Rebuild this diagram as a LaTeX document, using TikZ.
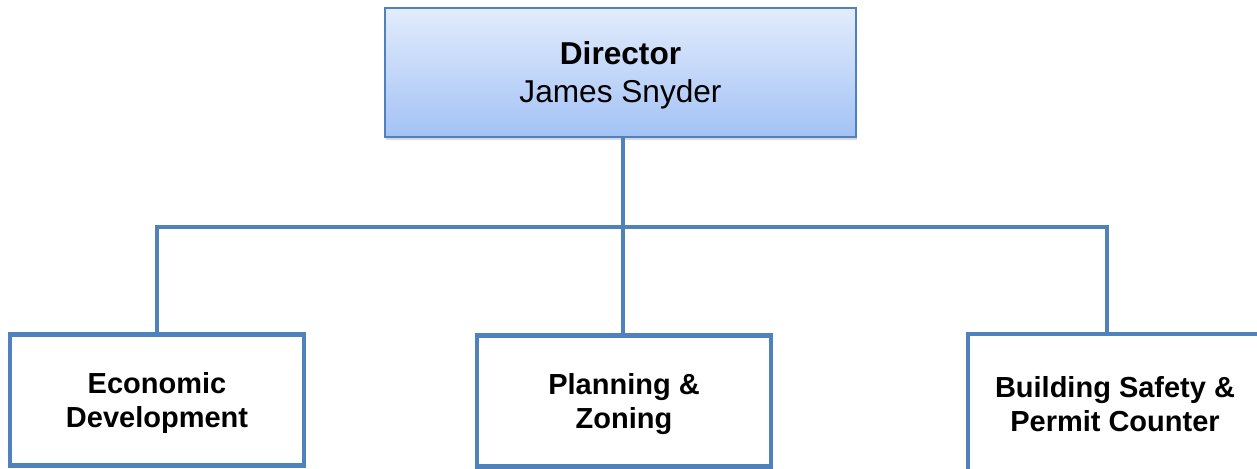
\documentclass[tikz,border=0pt]{standalone}
\usepackage{fontspec}
\setmainfont{Liberation Sans}
\usetikzlibrary{shadows}
\definecolor{orgblue}{HTML}{4F81BD}
\definecolor{dirtop}{HTML}{E2ECFC}
\definecolor{dirbot}{HTML}{A3C2F5}
\tikzset{
  headbox/.style={draw=orgblue, line width=1.1pt, top color=dirtop, bottom color=dirbot,
    minimum width=9.42cm, minimum height=2.58cm, align=center, text depth=-2pt,
    drop shadow={opacity=0.3, shadow xshift=0.6pt, shadow yshift=-2pt},
    font=\fontsize{18}{21.6}\selectfont},
  unitbox/.style={draw=orgblue, line width=2.3pt, fill=white,
    minimum width=5.88cm, minimum height=2.62cm, align=center, text depth=-2pt,
    font=\bfseries\fontsize{16.5}{19.5}\selectfont},
  link/.style={draw=orgblue, line width=2.8pt}
}
\begin{document}
\begin{tikzpicture}[x=0.02cm, y=-0.02cm]
\useasboundingbox (0,0) rectangle (1257,469);

% boxes
\node[headbox] (director) at (620.5,72.5) {\textbf{Director}\\James Snyder};
\node[unitbox] (econ) at (157,400) {Economic\\Development};
\node[unitbox] (plan) at (624,401) {Planning \&\\Zoning};
\node[unitbox, minimum height=2.8cm] (bldg) at (1115,404) {Building Safety \&\\Permit Counter};

% connectors
\coordinate (bar) at (623,227);
\coordinate (bldgtop) at (1107,334);
\draw[link] (director.south -| bar) -- (bar);
\draw[link] (econ.north) |- (bar) -| (bldgtop);
\draw[link] (bar) -- (plan.north -| bar);

\end{tikzpicture}
\end{document}
